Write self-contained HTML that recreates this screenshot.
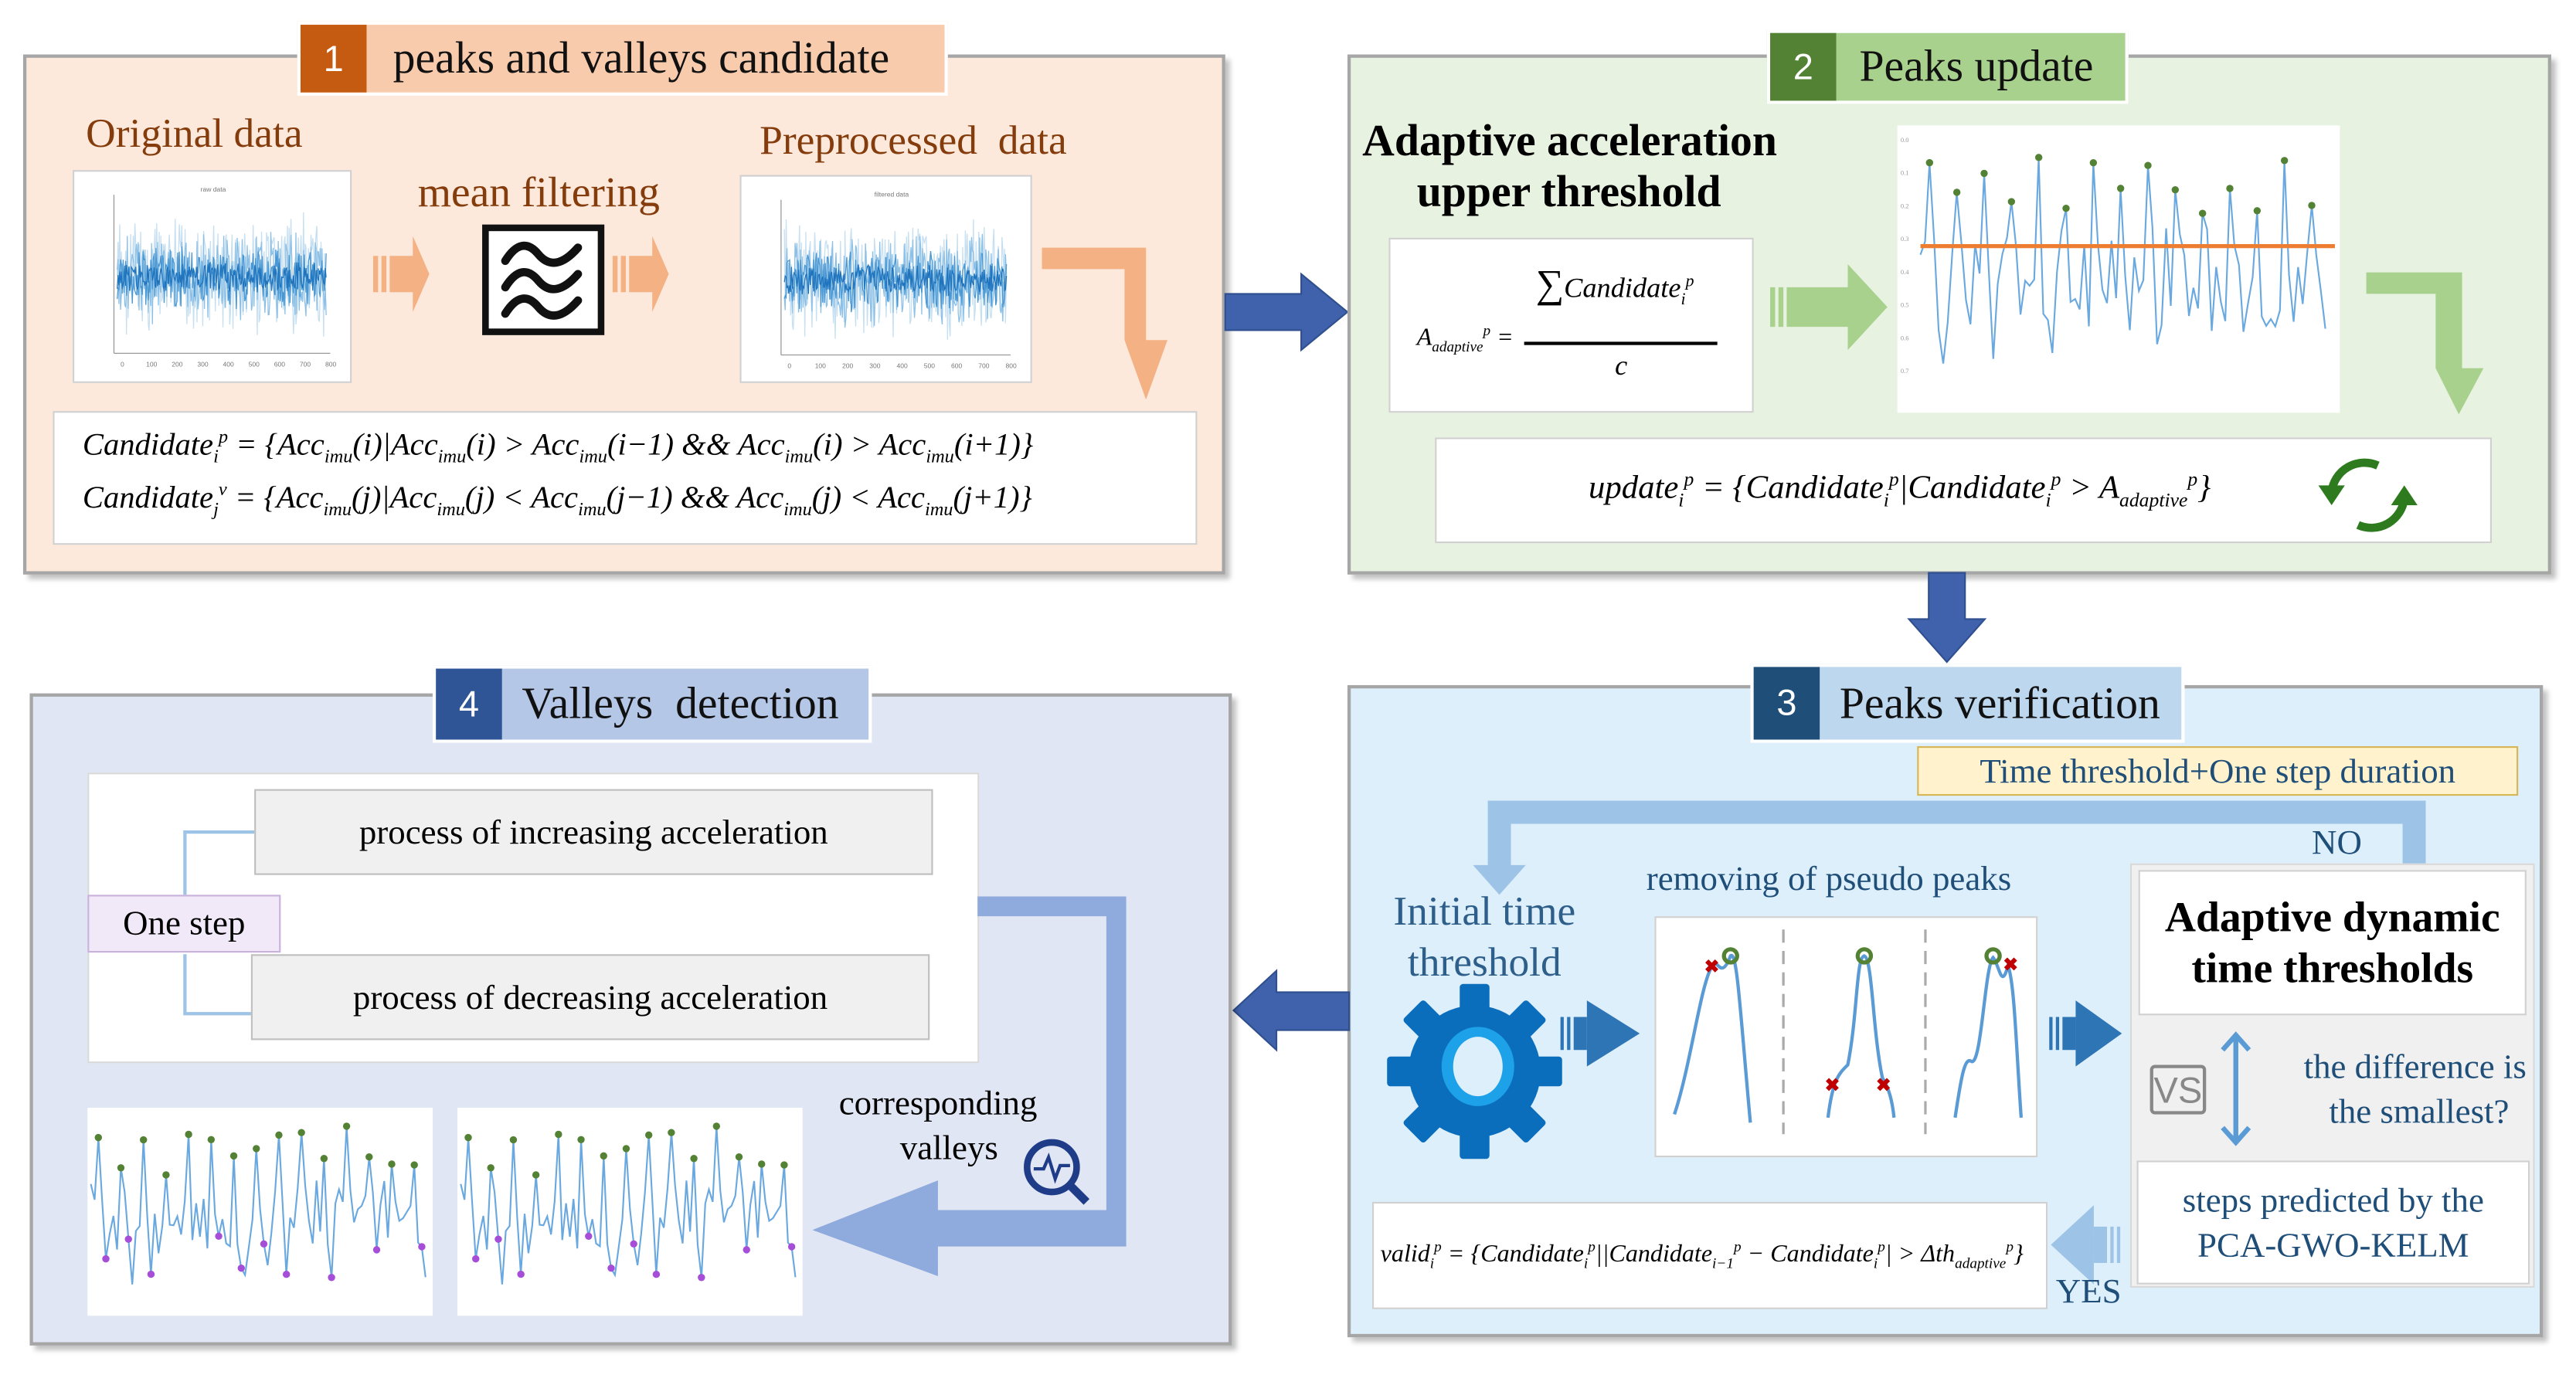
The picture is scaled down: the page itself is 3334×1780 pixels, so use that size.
<!DOCTYPE html>
<html><head><meta charset="utf-8">
<style>
html,body{margin:0;padding:0;background:#fff;}
body{width:3334px;height:1780px;overflow:hidden;position:relative;}
#w{position:absolute;left:0;top:0;width:1560px;height:833px;transform:scale(2.13718);transform-origin:0 0;font-family:"Liberation Serif",serif;}
.a{position:absolute;}
.panel{position:absolute;border:2px solid #a6a6a6;box-shadow:3px 3px 3px rgba(0,0,0,0.25);box-sizing:border-box;}
.wb{position:absolute;background:#fff;border:1px solid #d0d0d0;box-sizing:border-box;}
.title{position:absolute;border:2px solid #fff;display:flex;align-items:center;box-sizing:border-box;}
.num{height:100%;display:flex;align-items:center;justify-content:center;color:#fff;font-size:22px;font-family:"Liberation Sans",sans-serif;}
.tt{font-size:27px;color:#111;padding-left:16px;white-space:nowrap;}
.m{font-style:italic;font-family:"Liberation Serif",serif;white-space:nowrap;color:#000;}
.m sub,.m sup{font-size:60%;}
svg{position:absolute;overflow:visible;}
</style></head><body><div id="w">

<!-- Panel 1 -->
<div class="panel" style="left:14px;top:33px;width:728px;height:315px;background:#fde9db;"></div>
<div class="title" style="left:180px;top:13px;width:394px;height:45px;background:#f8cbad;"><div class="num" style="width:40px;background:#c55a11;">1</div><div class="tt">peaks and valleys candidate</div></div>
<div class="a" style="left:52px;top:68px;font-size:25px;color:#843c0c;">Original data</div>
<div class="wb" style="left:44px;top:103px;width:169px;height:129px;"><svg id="ch1" width="169" height="128"></svg></div>
<div class="a" style="left:253px;top:102px;font-size:26px;color:#843c0c;">mean filtering</div>
<div class="a" style="left:292px;top:136px;width:74px;height:67px;border:4px solid #111;background:#fff;box-sizing:border-box;"></div>
<svg style="left:298px;top:142px" width="68" height="62"><g fill="none" stroke="#111" stroke-width="5" stroke-linecap="round"><path d="M8 16 Q18 0 28 12 T52 8"/><path d="M8 32 Q18 16 28 28 T52 24"/><path d="M8 48 Q18 32 28 44 T52 40"/></g></svg>
<svg style="left:226px;top:143px" width="70" height="50"><rect x="0" y="12" width="3" height="22" fill="#f4b183"/><rect x="5" y="12" width="3" height="22" fill="#f4b183"/><path d="M10 12 H24 V0 L34 23 L24 46 V34 H10Z" fill="#f4b183"/></svg>
<svg style="left:371px;top:143px" width="70" height="50"><rect x="0" y="12" width="3" height="22" fill="#f4b183"/><rect x="5" y="12" width="3" height="22" fill="#f4b183"/><path d="M10 12 H24 V0 L34 23 L24 46 V34 H10Z" fill="#f4b183"/></svg>
<div class="a" style="left:460px;top:72px;font-size:25px;color:#843c0c;">Preprocessed&nbsp; data</div>
<div class="wb" style="left:448px;top:106px;width:177px;height:126px;"><svg id="ch2" width="177" height="126"></svg></div>
<svg style="left:631px;top:150px" width="85" height="95"><path d="M0 0 H63 V56 H76 L63 92 L50 56 V13 H0Z" fill="#f4b183"/></svg>
<div class="wb" style="left:32px;top:249px;width:693px;height:81px;"></div>
<div class="a m" style="left:50px;top:259px;font-size:19px;">Candidate<sub>i</sub><sup>p</sup> = {Acc<sub>imu</sub>(i)|Acc<sub>imu</sub>(i) &gt; Acc<sub>imu</sub>(i−1) &amp;&amp; Acc<sub>imu</sub>(i) &gt; Acc<sub>imu</sub>(i+1)}</div>
<div class="a m" style="left:50px;top:291px;font-size:19px;">Candidate<sub>j</sub><sup>v</sup> = {Acc<sub>imu</sub>(j)|Acc<sub>imu</sub>(j) &lt; Acc<sub>imu</sub>(j−1) &amp;&amp; Acc<sub>imu</sub>(j) &lt; Acc<sub>imu</sub>(j+1)}</div>

<!-- blue arrow 1->2 -->
<svg style="left:742px;top:166px" width="76" height="50"><path d="M0 12 H46 V0 L74 23 L46 46 V34 H0Z" fill="#4062ad" stroke="#2f4f8f" stroke-width="1"/></svg>

<!-- Panel 2 -->
<div class="panel" style="left:816px;top:33px;width:729px;height:315px;background:#e8f2e1;"></div>
<div class="title" style="left:1070px;top:18px;width:219px;height:45px;background:#a9d18e;"><div class="num" style="width:40px;background:#548235;">2</div><div class="tt" style="padding-left:14px">Peaks update</div></div>
<div class="a" style="left:825px;top:70px;font-size:27px;font-weight:bold;color:#000;">Adaptive acceleration</div>
<div class="a" style="left:858px;top:101px;font-size:27px;font-weight:bold;color:#000;">upper threshold</div>
<div class="wb" style="left:841px;top:144px;width:221px;height:106px;"></div>
<div class="a m" style="left:858px;top:195px;font-size:15px;">A<sub>adaptive</sub><sup>p</sup> =</div>
<div class="a" style="left:923px;top:207px;width:117px;height:1.5px;background:#000;"></div>
<div class="a m" style="left:930px;top:160px;font-size:17px;"><span style="font-style:normal;font-size:24px">∑</span>Candidate<sub>i</sub><sup>p</sup></div>
<div class="a m" style="left:978px;top:212px;font-size:17px;">c</div>
<svg style="left:1072px;top:160px" width="75" height="56"><rect x="0" y="14" width="3" height="24" fill="#a9d18e"/><rect x="5" y="14" width="3" height="24" fill="#a9d18e"/><path d="M10 14 H47 V0 L71 26 L47 52 V38 H10Z" fill="#a9d18e"/></svg>
<div class="a" style="left:1149px;top:76px;width:268px;height:174px;background:#fff;"><svg id="ch3" width="268" height="174"></svg></div>
<svg style="left:1433px;top:165px" width="80" height="90"><path d="M0 0 H58 V58 H71 L56 86 L42 58 V13 H0Z" fill="#a9d18e"/></svg>
<div class="wb" style="left:869px;top:265px;width:640px;height:64px;"></div>
<div class="a m" style="left:962px;top:283px;font-size:20px;">update<sub>i</sub><sup>p</sup> = {Candidate<sub>i</sub><sup>p</sup>|Candidate<sub>i</sub><sup>p</sup> &gt; A<sub>adaptive</sub><sup>p</sup>}</div>
<svg style="left:1402px;top:276px" width="66" height="48"><g fill="none" stroke="#2d7a1f" stroke-width="5"><path d="M38 6 A20 20 0 0 0 10 22"/><path d="M26 42 A20 20 0 0 0 54 26"/></g><path d="M2 18 L10 30 L18 18Z" fill="#2d7a1f"/><path d="M46 30 L54 18 L62 30Z" fill="#2d7a1f"/></svg>

<!-- down arrow 2->3 -->
<svg style="left:1156px;top:347px" width="48" height="56"><path d="M12 0 H34 V28 H46 L23 54 L0 28 H12Z" fill="#4062ad" stroke="#2f4f8f"/></svg>

<!-- Panel 3 -->
<div class="panel" style="left:816px;top:415px;width:724px;height:395px;background:#ddeffb;"></div>
<div class="title" style="left:1060px;top:402px;width:263px;height:48px;background:#bdd7ee;"><div class="num" style="width:40px;background:#1f4e79;">3</div><div class="tt" style="padding-left:12px">Peaks verification</div></div>
<div class="a" style="left:1161px;top:452px;width:364px;height:30px;background:#fff2cc;border:1px solid #d6b656;box-sizing:border-box;font-size:21px;color:#1f4e79;text-align:center;line-height:28px;">Time threshold+One step duration</div>
<svg style="left:890px;top:485px" width="590" height="60"><path d="M565 40 V14 H25 V39 H34 L18 57 L2 39 H11 V0 H579 V40Z" fill="#9dc3e6"/></svg>
<div class="a" style="left:1400px;top:498px;font-size:21px;color:#1f4e79;">NO</div>
<div class="a" style="left:830px;top:537px;width:138px;font-size:25px;color:#2e5f8a;text-align:center;line-height:31px;">Initial time threshold</div>
<svg style="left:838px;top:594px" width="110" height="110" viewBox="0 0 110 110"><g fill="#0a6ebd"><circle cx="55" cy="55" r="40"/><rect x="46" y="2" width="18" height="106" rx="2"/><rect x="2" y="46" width="106" height="18" rx="2"/><rect x="46" y="2" width="18" height="106" rx="2" transform="rotate(45 55 55)"/><rect x="46" y="2" width="18" height="106" rx="2" transform="rotate(-45 55 55)"/></g><ellipse cx="57" cy="52" rx="22" ry="24" fill="#1da1e8"/><ellipse cx="57" cy="52" rx="15" ry="18" fill="#ddeffb"/></svg>
<svg style="left:945px;top:606px" width="52" height="40"><rect x="0" y="10" width="2" height="20" fill="#2e75b6"/><rect x="4" y="10" width="2" height="20" fill="#2e75b6"/><rect x="8" y="10" width="8" height="20" fill="#2e75b6"/><path d="M16 0 L48 20 L16 40Z" fill="#2e75b6"/></svg>
<div class="a" style="left:997px;top:520px;font-size:21px;color:#1f4e79;">removing of pseudo peaks</div>
<div class="wb" style="left:1002px;top:555px;width:232px;height:146px;"></div>
<svg style="left:1002px;top:555px" width="232" height="146">
<g stroke="#aaa" stroke-width="1.5" stroke-dasharray="8 5"><line x1="78" y1="8" x2="78" y2="132"/><line x1="164" y1="8" x2="164" y2="132"/></g>
<g fill="none" stroke="#5b9bd5" stroke-width="2"><path d="M12 120 C22 90 28 40 35 30 C38 24 40 40 46 24 C50 20 52 60 58 125"/><path d="M105 122 C108 98 112 95 117 90 C123 60 122 25 127 24 C132 26 132 70 138 98 C142 104 144 112 145 122"/><path d="M182 122 C186 95 188 85 192 88 C198 90 200 30 205 25 C209 30 210 45 214 30 C218 40 219 80 222 122"/></g>
<g fill="none" stroke="#548235" stroke-width="2.5"><circle cx="46" cy="24" r="4"/><circle cx="127" cy="24" r="4"/><circle cx="205" cy="24" r="4"/></g>
<g fill="#c00000" font-size="11" font-family="Liberation Sans" font-weight="bold"><text x="30" y="34">✖</text><text x="103" y="106">✖</text><text x="134" y="106">✖</text><text x="211" y="33">✖</text></g></svg>
<svg style="left:1241px;top:606px" width="52" height="40"><rect x="0" y="10" width="2" height="20" fill="#2e75b6"/><rect x="4" y="10" width="2" height="20" fill="#2e75b6"/><rect x="8" y="10" width="8" height="20" fill="#2e75b6"/><path d="M16 0 L44 20 L16 40Z" fill="#2e75b6"/></svg>
<div class="a" style="left:1290px;top:523px;width:245px;height:257px;background:#f0f0f0;border:1px solid #d9d9d9;box-sizing:border-box;"></div>
<div class="wb" style="left:1295px;top:527px;width:235px;height:88px;font-weight:bold;font-size:26px;text-align:center;line-height:31px;display:flex;align-items:center;justify-content:center;">Adaptive dynamic<br>time thresholds</div>
<div class="a" style="left:1302px;top:645px;width:34px;height:30px;border:2px solid #888;border-radius:3px;font-size:22px;color:#888;text-align:center;line-height:28px;font-family:'Liberation Sans',sans-serif;box-sizing:border-box;">VS</div>
<svg style="left:1343px;top:624px" width="22" height="72"><g stroke="#5b9bd5" stroke-width="3" fill="none"><line x1="11" y1="3" x2="11" y2="68"/><path d="M3 12 L11 3 L19 12"/><path d="M3 59 L11 68 L19 59"/></g></svg>
<div class="a" style="left:1362px;top:633px;width:168px;font-size:21px;color:#1f4e79;text-align:right;line-height:27px;">the difference is<br>the smallest?&nbsp;&nbsp;</div>
<div class="wb" style="left:1294px;top:703px;width:238px;height:75px;font-size:21px;color:#1f4e79;text-align:center;line-height:27px;display:flex;align-items:center;justify-content:center;">steps predicted by the<br>PCA-GWO-KELM</div>
<div class="wb" style="left:831px;top:728px;width:409px;height:65px;"></div>
<div class="a m" style="left:836px;top:750px;font-size:15px;">valid<sub>i</sub><sup>p</sup> = {Candidate<sub>i</sub><sup>p</sup>||Candidate<sub>i−1</sub><sup>p</sup> − Candidate<sub>i</sub><sup>p</sup>| &gt; Δth<sub>adaptive</sub><sup>p</sup>}</div>
<svg style="left:1242px;top:730px" width="46" height="50"><path d="M26 0 V48 L0 24Z" fill="#9dc3e6"/><rect x="26" y="13" width="8" height="22" fill="#9dc3e6"/><rect x="36" y="13" width="2" height="22" fill="#9dc3e6"/><rect x="40" y="13" width="2" height="22" fill="#9dc3e6"/></svg>
<div class="a" style="left:1245px;top:770px;font-size:21px;color:#1f4e79;">YES</div>

<!-- left arrow 3->4 -->
<svg style="left:747px;top:588px" width="72" height="50"><path d="M70 13 H26 V0 L0 24 L26 48 V36 H70Z" fill="#4062ad" stroke="#2f4f8f"/></svg>

<!-- Panel 4 -->
<div class="panel" style="left:18px;top:420px;width:728px;height:395px;background:#e0e6f3;"></div>
<div class="title" style="left:262px;top:403px;width:266px;height:47px;background:#b4c7e7;"><div class="num" style="width:40px;background:#2f5597;">4</div><div class="tt" style="padding-left:12px">Valleys&nbsp; detection</div></div>
<div class="a" style="left:53px;top:468px;width:540px;height:176px;background:#fff;border:1px solid #d9d9d9;box-sizing:border-box;"></div>
<svg style="left:100px;top:500px" width="60" height="120"><path d="M54 4 H12 V42 M12 78 V114 H54" fill="none" stroke="#9dc3e6" stroke-width="2"/></svg>
<div class="a" style="left:154px;top:478px;width:411px;height:52px;background:#f0f0f0;border:1px solid #bfbfbf;box-sizing:border-box;font-size:21px;text-align:center;line-height:50px;">process of increasing acceleration</div>
<div class="a" style="left:152px;top:578px;width:411px;height:52px;background:#f0f0f0;border:1px solid #bfbfbf;box-sizing:border-box;font-size:21px;text-align:center;line-height:50px;">process of decreasing acceleration</div>
<div class="a" style="left:53px;top:542px;width:117px;height:35px;background:#f1e9f8;border:1px solid #c9b3dc;box-sizing:border-box;font-size:21px;text-align:center;line-height:33px;">One step</div>
<svg style="left:492px;top:543px" width="196" height="230"><path d="M100 0 H190 V212 H76 V230 L0 202 L76 172 V190 H178 V12 H100Z" fill="#8faadc"/></svg>
<div class="a" style="left:508px;top:656px;font-size:21px;">corresponding</div>
<div class="a" style="left:545px;top:683px;font-size:21px;">valleys</div>
<svg style="left:618px;top:688px" width="44" height="44"><circle cx="19" cy="19" r="15" fill="none" stroke="#1f3c88" stroke-width="4"/><path d="M30 30 L40 40" stroke="#1f3c88" stroke-width="5"/><path d="M8 20 H14 L17 13 L21 26 L24 18 H30" fill="none" stroke="#1f3c88" stroke-width="2"/></svg>
<div class="a" style="left:53px;top:671px;width:209px;height:126px;background:#fff;"><svg id="ch4" width="209" height="126"></svg></div>
<div class="a" style="left:277px;top:671px;width:209px;height:126px;background:#fff;"><svg id="ch5" width="209" height="126"></svg></div>

</div>
<script>
var s=7;function r(){s=(s*9301+49297)%233280;return s/233280;}
var NS="http://www.w3.org/2000/svg";
function el(p,t,a){var e=document.createElementNS(NS,t);for(var k in a)e.setAttribute(k,a[k]);p.appendChild(e);return e;}
function noise(id,w,h,title){var g=document.getElementById(id);
 el(g,'line',{x1:24,y1:14,x2:24,y2:h-18,stroke:'#999','stroke-width':0.6});
 el(g,'line',{x1:24,y1:h-18,x2:w-14,y2:h-18,stroke:'#999','stroke-width':0.6});
 for(var i=0;i<9;i++){var t=el(g,'text',{x:28+i*(w-45)/8,y:h-10,'font-size':4,fill:'#777','font-family':'Liberation Sans'});t.textContent=(i*100);}
 var t2=el(g,'text',{x:w/2-8,y:12,'font-size':4,fill:'#777','font-family':'Liberation Sans'});t2.textContent=title;
 var cy=(h-18+14)/2+2;
 var cols=['#c6dff1','#8cc0e6','#4a98d3','#1f74bd'];var amps=[40,30,20,10];
 for(var c=0;c<4;c++){var d='';var n=250;for(var i=0;i<n;i++){var x=26+i*(w-42)/n;var y=cy+(r()-0.5)*2*amps[c]*(0.6+0.4*r());d+=(i?'L':'M')+x.toFixed(1)+' '+y.toFixed(1);}
 el(g,'path',{d:d,fill:'none',stroke:cols[c],'stroke-width':0.6});}
}
noise('ch1',169,128,'raw data');noise('ch2',177,126,'filtered data');
function peaks(id,w,h,thr,pc,vc){var g=document.getElementById(id);var pts=[];var n=90;
 for(var i=0;i<n;i++){var x=(thr?14:2)+i*(w-(thr?20:4))/n;var y;
  if(i%6==2){y=h*0.08+r()*h*0.25;}else if(i%6==4||i%6==5){y=h*0.45+r()*h*0.4;}else{y=h*0.35+r()*h*0.35;}
  pts.push([x,y]);}
 var d='';pts.forEach(function(p,i){d+=(i?'L':'M')+p[0].toFixed(1)+' '+p[1].toFixed(1);});
 el(g,'path',{d:d,fill:'none',stroke:'#6aa8e0','stroke-width':1});
 if(thr){el(g,'line',{x1:14,y1:h*0.42,x2:w-3,y2:h*0.42,stroke:'#ed7d31','stroke-width':2.5});
  for(var k=0;k<8;k++){var t=el(g,'text',{x:2,y:10+k*20,'font-size':4,fill:'#999'});t.textContent='0.'+k;}}
 pts.forEach(function(p,i){if(i%6==2)el(g,'circle',{cx:p[0],cy:p[1],r:2.2,fill:pc});
  if(vc&&i%6==4&&p[1]>h*0.6)el(g,'circle',{cx:p[0],cy:p[1],r:2.2,fill:vc});});
}
peaks('ch3',268,174,true,'#548235',null);
s=21;peaks('ch4',209,126,false,'#548235','#a64ed8');
s=21;peaks('ch5',209,126,false,'#548235','#a64ed8');
</script>
</body></html>
